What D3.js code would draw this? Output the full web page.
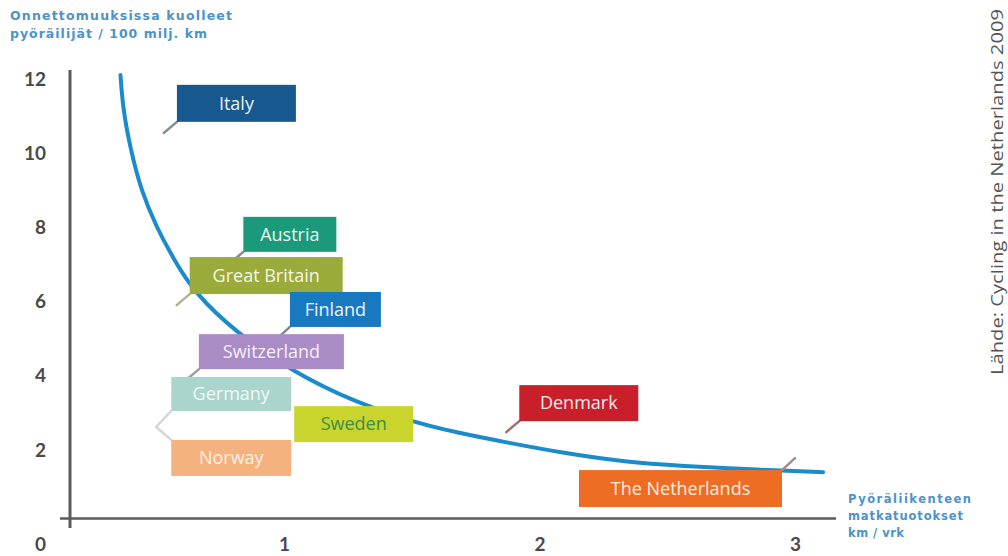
<!DOCTYPE html>
<html>
<head>
<meta charset="utf-8">
<script src="https://cdn.jsdelivr.net/npm/d3@7"></script>
<style>
  html, body { margin: 0; padding: 0; background: #fff; }
  svg { display: block; }
</style>
</head>
<body>
<svg id="chart" width="1008" height="556"></svg>
<script>
// Trend curve: cycling distance (km / day) vs. cyclist deaths per 100 million km
const curveX = [0.36, 0.37, 0.40, 0.44, 0.50, 0.57, 0.65, 0.81, 1.04, 1.28, 1.49, 1.68, 1.88, 2.09, 2.34, 2.55, 2.86, 3.11];
const curveY = [12.12, 11.18, 10.10, 9.02, 8.02, 7.13, 6.24, 5.18, 4.08, 3.29, 2.78, 2.46, 2.19, 1.92, 1.67, 1.57, 1.46, 1.40];

// Country labels and the point each one refers to (data units)
const countries = ["Italy", "Austria", "Great Britain", "Finland", "Switzerland", "Germany", "Norway", "Sweden", "Denmark", "The Netherlands"];
const anchorX = [0.53, 0.79, 0.58, 0.98, 0.62, 0.50, 0.50, 1.04, 1.87, 3.00];
const anchorY = [10.56, 7.05, 5.91, 5.05, 3.91, 2.62, 2.62, 2.21, 2.48, 1.78];

const yTicks = [0, 2, 4, 6, 8, 10, 12];
const xTicks = [1, 2, 3];

const yTitle = ["Onnettomuuksissa kuolleet", "pyöräilijät / 100 milj. km"];
const xTitle = ["Pyöräliikenteen", "matkatuotokset", "km / vrk"];
const sourceText = "Lähde: Cycling in the Netherlands 2009";

// Label box styling: fill, text colour, attach corner, offset from anchor, size
const boxFill = ["#17598f", "#1b9a7b", "#9bab3b", "#1878c0", "#a98bc5", "#a9d5cc", "#f3b27e", "#c9d42c", "#c81f2b", "#ee6d24"];
const boxText = ["#e8f0f8", "#e8f6f0", "#f4f6e4", "#eef4fb", "#f6f0fa", "#f2faf8", "#fdf0e4", "#3f8d48", "#fbe8e8", "#fdeee2"];
const boxLayout = [
  { corner: "bl", dx: 13, dy: -11, w: 119, h: 37 },
  { corner: "bl", dx: 13, dy: -11, w: 93,  h: 35 },
  { corner: "bl", dx: 13, dy: -11, w: 153, h: 37 },
  { corner: "bl", dx: 11, dy: -10, w: 91,  h: 35 },
  { corner: "bl", dx: 12, dy: -10, w: 145, h: 35 },
  { corner: "bl", dx: 15, dy: -16, w: 120, h: 34 },
  { corner: "tl", dx: 15, dy: 13,  w: 120, h: 36 },
  { corner: "bl", dx: 0,  dy: 0,   w: 119, h: 36 },
  { corner: "bl", dx: 13, dy: -11, w: 119, h: 36 },
  { corner: "tr", dx: -13, dy: 12, w: 203, h: 37 }
];
const pointerColor = ["#7f8c94", "#7f8c94", "#b8b090", "#7f8c94", "#a0a0a0", "#d4d8d8", "#d4d8d8", "none", "#a07070", "#a09080"];

const svg = d3.select("#chart");

const x = d3.scaleLinear().domain([0, 3]).range([28.5, 795]);
const y = d3.scaleLinear().domain([0, 12]).range([524, 79.5]);

const axisColor = "#5b5b5b";
const labelFont = "'Lato', 'DejaVu Sans', sans-serif";

// Axis frame lines
svg.append("line")
  .attr("x1", 70).attr("x2", 70).attr("y1", 70).attr("y2", 528)
  .attr("stroke", axisColor).attr("stroke-width", 3);
svg.append("line")
  .attr("x1", 60).attr("x2", 836).attr("y1", 518.5).attr("y2", 518.5)
  .attr("stroke", axisColor).attr("stroke-width", 2.5);

// Y axis tick labels
const yAxis = svg.append("g")
  .attr("transform", "translate(70,0)")
  .call(d3.axisLeft(y).tickValues(yTicks).tickSize(0).tickPadding(24).tickFormat(d3.format("d")));
yAxis.select(".domain").remove();
yAxis.selectAll("text")
  .attr("font-family", labelFont).attr("font-weight", 700)
  .attr("font-size", 19).attr("fill", "#4a4a4a");
// origin label sits on the x-label row
yAxis.selectAll(".tick").filter(d => d === 0).select("text").attr("dy", "1.4em");

// X axis tick labels
const xAxis = svg.append("g")
  .attr("transform", "translate(0,518)")
  .call(d3.axisBottom(x).tickValues(xTicks).tickSize(0).tickPadding(20).tickFormat(d3.format("d")));
xAxis.select(".domain").remove();
xAxis.selectAll("text")
  .attr("font-family", labelFont).attr("font-weight", 700)
  .attr("font-size", 19).attr("fill", "#4a4a4a");

// Trend curve
const pts = curveX.map((v, i) => [v, curveY[i]]);
const line = d3.line().x(d => x(d[0])).y(d => y(d[1])).curve(d3.curveBasis);
svg.append("path")
  .attr("d", line(pts))
  .attr("fill", "none")
  .attr("stroke", "#1a8bcb")
  .attr("stroke-width", 4)
  .attr("stroke-linecap", "round");

// Country labels
const labels = countries.map((name, i) => {
  const tx = x(anchorX[i]), ty = y(anchorY[i]);
  const L = boxLayout[i];
  const cx = tx + L.dx, cy = ty + L.dy;
  let bx, by;
  if (L.corner === "bl") { bx = cx; by = cy - L.h; }
  else if (L.corner === "tl") { bx = cx; by = cy; }
  else { bx = cx - L.w; by = cy; }
  return { name, tx, ty, cx, cy, bx, by, w: L.w, h: L.h, i };
});

const g = svg.append("g");
labels.forEach(d => {
  if (pointerColor[d.i] !== "none") {
    g.append("line")
      .attr("x1", d.tx).attr("y1", d.ty).attr("x2", d.cx).attr("y2", d.cy)
      .attr("stroke", pointerColor[d.i]).attr("stroke-width", 2.5)
      .attr("stroke-linecap", "round");
  }
});
labels.forEach(d => {
  g.append("rect")
    .attr("x", d.bx).attr("y", d.by).attr("width", d.w).attr("height", d.h)
    .attr("fill", boxFill[d.i]);
  g.append("text")
    .attr("x", d.bx + d.w / 2).attr("y", d.by + d.h / 2)
    .attr("dy", "0.35em")
    .attr("text-anchor", "middle")
    .attr("font-family", "'Open Sans', 'Noto Sans', sans-serif")
    .attr("font-size", 18)
    .attr("fill", boxText[d.i])
    .text(d.name);
});

// Axis titles
const titleFont = "'DejaVu Sans', sans-serif";
const yTitleWidth = [222, 197];
svg.append("text")
  .attr("font-family", titleFont).attr("font-weight", 700).attr("font-size", 12.5)
  .attr("fill", "#4b93c9")
  .selectAll("tspan").data(yTitle).join("tspan")
  .attr("x", 10).attr("y", (d, i) => 20 + i * 18)
  .attr("textLength", (d, i) => yTitleWidth[i])
  .attr("lengthAdjust", "spacing")
  .text(d => d);

const xTitleWidth = [123, 115, 56];
xTitle.forEach((t, i) => {
  svg.append("text")
    .attr("x", 848).attr("y", 503 + i * 17)
    .attr("font-family", titleFont).attr("font-weight", 700).attr("font-size", 11.5)
    .attr("fill", "#4b93c9")
    .attr("textLength", xTitleWidth[i])
    .attr("lengthAdjust", "spacing")
    .text(t);
});

// Source note, rotated along the right edge
svg.append("text")
  .attr("transform", "translate(1003,375) rotate(-90)")
  .attr("font-family", "'Open Sans', 'Noto Sans', sans-serif")
  .attr("font-size", 17)
  .attr("fill", "#555")
  .attr("textLength", 366)
  .attr("lengthAdjust", "spacingAndGlyphs")
  .text(sourceText);
</script>
</body>
</html>
